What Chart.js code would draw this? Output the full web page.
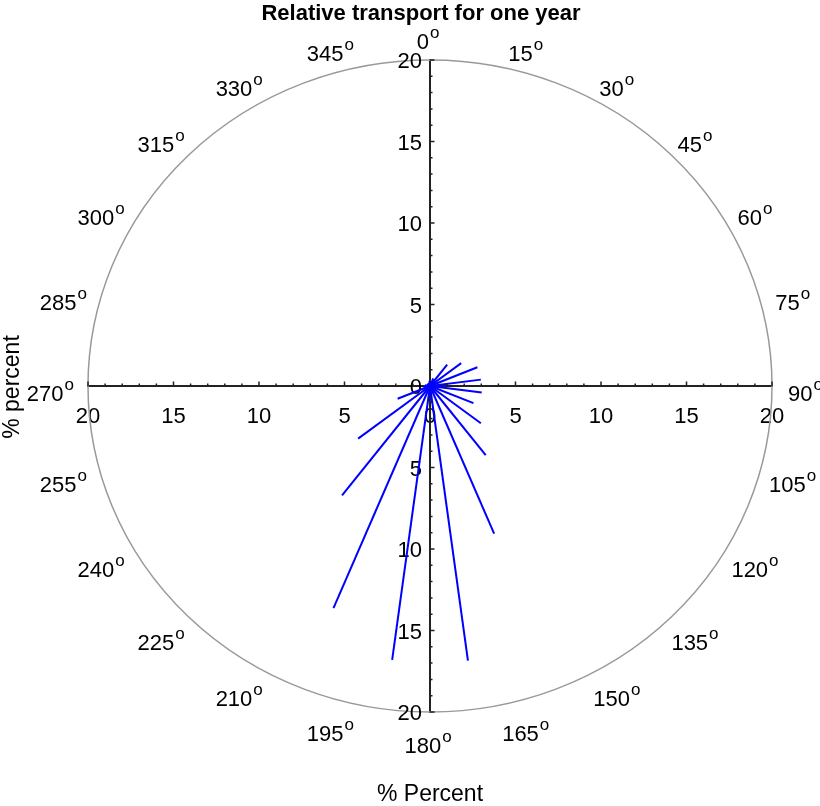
<!DOCTYPE html>
<html>
<head>
<meta charset="utf-8">
<script src="https://cdn.jsdelivr.net/npm/chart.js@4.4.1/dist/chart.umd.min.js"></script>
<style>
  html, body { margin: 0; padding: 0; background: #fff; }
</style>
</head>
<body>
<canvas id="roseChart" width="820" height="806"></canvas>
<script>
const directions = [7.5, 22.5, 37.5, 52.5, 67.5, 82.5, 97.5, 112.5, 127.5, 142.5, 157.5, 172.5,
  187.5, 202.5, 217.5, 232.5, 247.5, 262.5, 277.5, 292.5, 307.5, 322.5, 337.5, 352.5];
const percents = [0.3, 0.5, 1.65, 2.3, 3.0, 3.0, 3.05, 2.75, 3.75, 5.35, 9.8, 17.0,
  16.95, 14.75, 8.45, 5.3, 2.05, 0.4, 0.3, 0.2, 0.2, 0.2, 0.2, 0.3];
const axisTicks = [-20, -15, -10, -5, 0, 5, 10, 15, 20];
const compassLabels = [0, 15, 30, 45, 60, 75, 90, 105, 120, 135, 150, 165,
  180, 195, 210, 225, 240, 255, 270, 285, 300, 315, 330, 345];

const FONT = "'Liberation Sans', Arial, Helvetica, sans-serif";

const rays = directions.map((dir, i) => {
  const rad = dir * Math.PI / 180;
  return {
    data: [
      { x: 0, y: 0 },
      { x: percents[i] * Math.sin(rad), y: percents[i] * Math.cos(rad) },
    ],
    showLine: true,
    borderColor: "#0000ff",
    borderWidth: 2,
    pointRadius: 0,
  };
});

// circle, minor ticks, y tick labels, compass labels and titles
const roseDecor = {
  id: "roseDecor",
  beforeDatasetsDraw(chart) {
    const { ctx, scales: { x, y } } = chart;
    const cx = x.getPixelForValue(0);
    const cy = y.getPixelForValue(0);
    const rx = x.getPixelForValue(20) - cx;
    const ry = cy - y.getPixelForValue(20);
    ctx.save();
    ctx.strokeStyle = "#999";
    ctx.lineWidth = 1.5;
    ctx.beginPath();
    ctx.ellipse(cx, cy, rx, ry, 0, 0, 2 * Math.PI);
    ctx.stroke();

    ctx.strokeStyle = "#222";
    ctx.lineWidth = 1.5;
    for (let v = -20; v <= 20; v++) {
      if (v === 0) continue;
      const len = v % 5 === 0 ? 4.5 : 2.5;
      const px = x.getPixelForValue(v);
      const py = y.getPixelForValue(v);
      ctx.beginPath();
      ctx.moveTo(px, cy);
      ctx.lineTo(px, cy - len);
      ctx.moveTo(cx, py);
      ctx.lineTo(cx + len, py);
      ctx.stroke();
    }

    // y tick labels sit left of the centred axis
    ctx.fillStyle = "#000";
    ctx.font = "22px " + FONT;
    ctx.textAlign = "right";
    ctx.textBaseline = "middle";
    y.ticks.forEach((t) => {
      ctx.fillText(String(Math.abs(t.value)), cx - 8, y.getPixelForValue(t.value) + 2);
    });
    ctx.restore();
  },
  afterDraw(chart) {
    const { ctx, scales: { x, y } } = chart;
    const cx = x.getPixelForValue(0);
    const cy = y.getPixelForValue(0);
    const ax = (x.getPixelForValue(20) - cx) * 1.104;
    const ay = (cy - y.getPixelForValue(20)) * 1.08;
    ctx.save();
    ctx.fillStyle = "#000";
    ctx.textBaseline = "alphabetic";
    ctx.textAlign = "left";
    compassLabels.forEach((deg) => {
      const rad = deg * Math.PI / 180;
      const lx = cx + ax * Math.sin(rad) - 2;
      const ly = cy - ay * Math.cos(rad) + 5;
      const txt = String(deg);
      ctx.font = "22px " + FONT;
      const w1 = ctx.measureText(txt).width;
      ctx.font = "17px " + FONT;
      const w2 = ctx.measureText("o").width;
      const left = lx - (w1 + 1 + w2) / 2;
      ctx.font = "22px " + FONT;
      ctx.fillText(txt, left, ly + 10);
      ctx.font = "17px " + FONT;
      ctx.fillText("o", left + w1 + 1, ly - 1);
    });

    ctx.textAlign = "center";
    ctx.textBaseline = "middle";
    ctx.font = "bold 22px " + FONT;
    ctx.fillText("Relative transport for one year", 421, 14);
    ctx.font = "23px " + FONT;
    ctx.fillText("% Percent", 430, 795);
    ctx.translate(13, 387);
    ctx.rotate(-Math.PI / 2);
    ctx.fillText("% percent", 0, 0);
    ctx.restore();
  },
};

const axisBase = {
  type: "linear",
  min: -20,
  max: 20,
  grid: { display: false, drawTicks: false },
  border: { display: true, color: "#222", width: 2 },
  afterBuildTicks: (scale) => {
    scale.ticks = axisTicks.map((v) => ({ value: v }));
  },
};

new Chart(document.getElementById("roseChart"), {
  type: "scatter",
  data: { datasets: rays },
  options: {
    responsive: false,
    animation: false,
    layout: { padding: { left: 88, right: 48, top: 60, bottom: 94 } },
    plugins: {
      legend: { display: false },
      tooltip: { enabled: false },
    },
    scales: {
      x: {
        ...axisBase,
        position: { y: 0 },
        ticks: {
          padding: 18,
          color: "#000",
          font: { family: FONT, size: 22 },
          maxRotation: 0,
          autoSkip: false,
          callback: (v) => Math.abs(v),
        },
      },
      y: {
        ...axisBase,
        position: { x: 0 },
        ticks: { display: false },
      },
    },
  },
  plugins: [roseDecor],
});
</script>
</body>
</html>
